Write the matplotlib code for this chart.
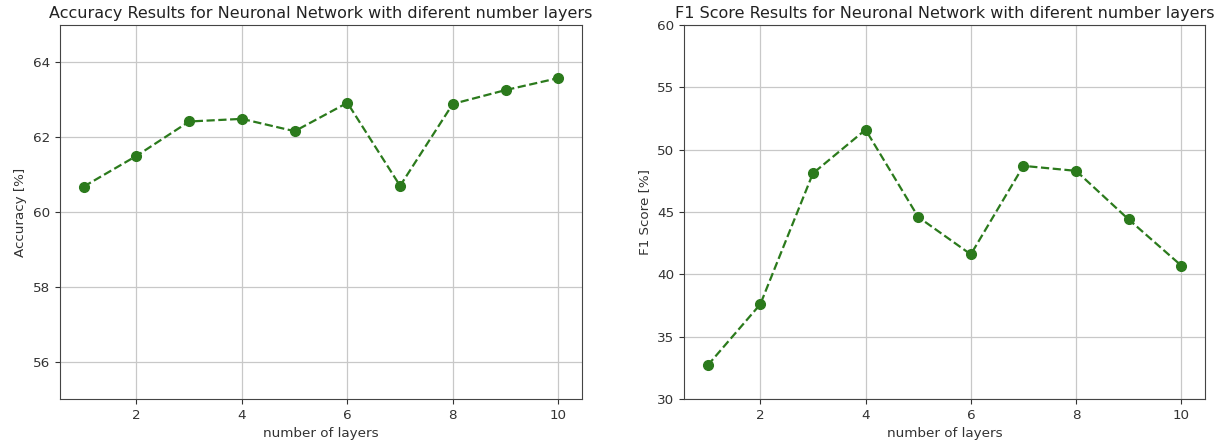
import matplotlib
matplotlib.use("Agg")
import matplotlib.pyplot as plt

layers = [1, 2, 3, 4, 5, 6, 7, 8, 9, 10]
accuracy = [60.68, 61.5, 62.42, 62.49, 62.16, 62.92, 60.7, 62.89, 63.26, 63.58]
f1_score = [32.7, 37.6, 48.1, 51.6, 44.6, 41.6, 48.7, 48.3, 44.4, 40.7]

acc_title = "Accuracy Results for Neuronal Network with diferent number layers"
f1_title = "F1 Score Results for Neuronal Network with diferent number layers"
xlabel = "number of layers"
acc_ylabel = "Accuracy [%]"
f1_ylabel = "F1 Score [%]"

fig = plt.figure(figsize=(12.28, 4.44), dpi=100)
ax1 = fig.add_axes([60/1228, 1-399/444, (582-60)/1228, (399-25)/444])
ax2 = fig.add_axes([684/1228, 1-399/444, (1205-684)/1228, (399-25)/444])

color = "#2b7a1c"
for ax, vals, title, ylab in [(ax1, accuracy, acc_title, acc_ylabel),
                              (ax2, f1_score, f1_title, f1_ylabel)]:
    ax.plot(layers, vals, linestyle="--", marker="o", color=color,
            linewidth=1.6, markersize=7)
    ax.grid(True, color="#c8c8c8", linewidth=0.9)
    ax.set_axisbelow(True)
    ax.set_title(title, fontsize=11.5, color="#222222", pad=5)
    ax.set_xlabel(xlabel, fontsize=9.7, color="#333333")
    ax.set_ylabel(ylab, fontsize=9.7, color="#333333")
    ax.tick_params(labelsize=9.7, colors="#333333")
    ax.set_xticks([2, 4, 6, 8, 10])
    for s in ax.spines.values():
        s.set_color("#444444")

ax1.set_ylim(55, 65)
ax1.set_yticks([56, 58, 60, 62, 64])
ax2.set_ylim(30, 60)
ax2.set_yticks([30, 35, 40, 45, 50, 55, 60])

fig.savefig("out.png", dpi=100)
